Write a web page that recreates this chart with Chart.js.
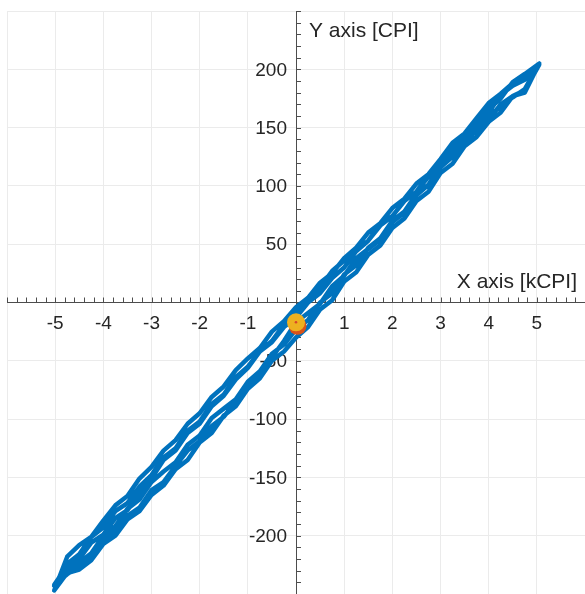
<!DOCTYPE html>
<html>
<head>
<meta charset="utf-8">
<script src="https://cdn.jsdelivr.net/npm/chart.js@4.4.1/dist/chart.umd.min.js"></script>
<style>
  html, body { margin: 0; padding: 0; background: #fff; }
  #wrap { width: 585px; height: 594px; }
</style>
</head>
<body>
<div id="wrap"><canvas id="myChart"></canvas></div>
<script>
// x positions of the sweeps (kCPI)
const xUp = [-5.02, -4.75, -4.5, -4.25, -4, -3.75, -3.5, -3.25, -3, -2.75, -2.5, -2.25, -2, -1.75, -1.5, -1.25, -1, -0.75, -0.5, -0.25,
    0, 0.25, 0.5, 0.75, 1, 1.25, 1.5, 1.75, 2, 2.25, 2.5, 2.75, 3, 3.25, 3.5, 3.75, 4, 4.25, 4.5, 4.75, 5.05];
const xDown = [5.05, 4.75, 4.5, 4.25, 4, 3.75, 3.5, 3.25, 3, 2.75, 2.5, 2.25, 2, 1.75, 1.5, 1.25, 1, 0.75, 0.5, 0.25,
    0, -0.25, -0.5, -0.75, -1, -1.25, -1.5, -1.75, -2, -2.25, -2.5, -2.75, -3, -3.25, -3.5, -3.75, -4, -4.25, -4.5, -4.75, -5.02];
const xStart = [0, 0.25, 0.5, 0.75, 1, 1.25, 1.5, 1.75, 2, 2.25, 2.5, 2.75, 3, 3.25, 3.5, 3.75, 4, 4.25, 4.5, 4.75, 5.05];
const xEnd = [-5.02, -4.75, -4.5, -4.25, -4, -3.75, -3.5, -3.25, -3, -2.75, -2.5, -2.25, -2, -1.75, -1.5, -1.25, -1, -0.75, -0.5, -0.25, 0];

// y values of the sweeps (CPI)
const ySweep1 = [-17, -9, -1, 14, 23, 38, 46, 54, 69, 77, 92, 101, 117, 125, 134, 149, 157, 170, 177, 180, 205];
const ySweep2 = [205, 196, 188, 179, 171, 158, 145, 137, 123, 110, 102, 89, 81, 68, 60, 47, 38, 25, 17, 4,
    -4, -16, -25, -39, -48, -58, -72, -81, -95, -104, -118, -127, -141, -151, -166, -174, -187, -201, -208, -218, -247];
const ySweep3 = [-247, -232, -229, -221, -207, -200, -186, -179, -165, -157, -143, -135, -120, -112, -97, -89, -74, -65, -50, -42,
    -30, -21, -6, 2, 18, 26, 41, 49, 64, 72, 87, 95, 111, 119, 134, 142, 155, 163, 177, 182, 204];
const ySweep4 = [204, 191, 186, 178, 163, 154, 140, 132, 118, 110, 95, 87, 74, 67, 53, 44, 30, 21, 8, 0,
    -13, -21, -34, -42, -55, -64, -79, -87, -102, -110, -125, -133, -148, -158, -172, -179, -193, -201, -216, -224, -243];
const ySweep5 = [-243, -229, -223, -215, -200, -192, -177, -169, -154, -145, -137, -122, -114, -99, -91, -83, -68, -59, -44, -36,
    -23, -15, 0, 8, 24, 32, 47, 55, 70, 78, 93, 101, 116, 125, 139, 147, 160, 168, 176, 183, 205];
const ySweep6 = [205, 196, 189, 175, 166, 152, 144, 131, 117, 108, 95, 87, 74, 66, 53, 45, 36, 27, 13, 4,
    -10, -19, -33, -42, -56, -66, -80, -89, -104, -112, -127, -135, -151, -164, -178, -185, -199, -206, -220, -226, -242];
const ySweep7 = [-242, -233, -226, -218, -204, -197, -183, -176, -161, -154, -140, -127, -119, -106, -98, -85, -70, -61, -47, -33, -17];

// current position marker
const cursorX = [0];
const cursorY = [-17];

const sweeps = [
    [xStart, ySweep1], [xDown, ySweep2], [xUp, ySweep3], [xDown, ySweep4],
    [xUp, ySweep5], [xDown, ySweep6], [xEnd, ySweep7]
];
const pathData = [];
sweeps.forEach(([xs, ys]) => {
    xs.forEach((x, i) => pathData.push({ x, y: ys[i] }));
});
const cursorData = cursorX.map((x, i) => ({ x, y: cursorY[i] }));

const FONT = 'Arial, "Liberation Sans", sans-serif';
const TEXT = '#262626';

// minor tick marks, y tick labels and the two axis titles
const axisDecor = {
    id: 'axisDecor',
    beforeDatasetsDraw(chart) {
        const { ctx, scales: { x, y }, chartArea } = chart;
        const x0 = x.getPixelForValue(0);
        const y0 = y.getPixelForValue(0);
        ctx.save();
        ctx.strokeStyle = '#4d4d4d';
        ctx.lineWidth = 1;
        ctx.beginPath();
        for (let i = -30; i <= 30; i++) {
            const px = Math.round(x.getPixelForValue(i * 0.2)) + 0.5;
            ctx.moveTo(px, y0);
            ctx.lineTo(px, y0 - 5);
        }
        for (let j = -25; j <= 25; j++) {
            const py = Math.round(y.getPixelForValue(j * 10)) + 0.5;
            ctx.moveTo(x0, py);
            ctx.lineTo(x0 + 5, py);
        }
        ctx.stroke();

        ctx.fillStyle = TEXT;
        ctx.font = '19px ' + FONT;
        ctx.textAlign = 'right';
        ctx.textBaseline = 'middle';
        y.ticks.forEach((t) => {
            if (t.value === 0 || Math.abs(t.value) === 250) return;
            ctx.fillText(String(t.value), x0 - 9, y.getPixelForValue(t.value) + 1);
        });

        ctx.font = '21px ' + FONT;
        ctx.textBaseline = 'alphabetic';
        ctx.textAlign = 'left';
        ctx.fillText('Y axis [CPI]', x0 + 13, chartArea.top + 26);
        ctx.textAlign = 'right';
        ctx.fillText('X axis [kCPI]', chartArea.right - 8, y0 - 15);
        ctx.restore();
    }
};

// darker orange rim under the marker
const dotShadow = {
    id: 'dotShadow',
    beforeDatasetDraw(chart, args) {
        if (args.index === 1) {
            const ctx = chart.ctx;
            ctx.save();
            ctx.shadowColor = '#D95319';
            ctx.shadowOffsetX = 1.5;
            ctx.shadowOffsetY = 3.5;
            ctx.shadowBlur = 0;
        }
    },
    afterDatasetDraw(chart, args) {
        if (args.index === 1) chart.ctx.restore();
    }
};

const noPad = (scale) => {
    scale.paddingTop = 0; scale.paddingBottom = 0;
    scale.paddingLeft = 0; scale.paddingRight = 0;
};

const config = {
    type: 'scatter',
    data: {
        datasets: [
            {
                data: pathData, showLine: true, borderColor: '#0072BD', borderWidth: 4.5,
                pointRadius: 0, tension: 0, borderJoinStyle: 'round', borderCapStyle: 'round', order: 3
            },
            {
                data: cursorData, pointRadius: 9, backgroundColor: '#EDB120', borderWidth: 0, order: 2
            },
            {
                data: cursorData, pointRadius: 1.3, backgroundColor: '#d8452a', borderWidth: 0, order: 1
            }
        ]
    },
    options: {
        responsive: true,
        maintainAspectRatio: false,
        animation: false,
        layout: { autoPadding: false, padding: { left: 7, top: 11, right: 0, bottom: 0 } },
        plugins: { legend: { display: false }, tooltip: { enabled: false } },
        scales: {
            x: {
                type: 'linear', min: -6, max: 6, position: { y: 0 },
                afterFit: noPad,
                grid: { color: '#ebebeb', drawTicks: false },
                border: { color: '#4d4d4d', width: 1 },
                ticks: {
                    stepSize: 1, autoSkip: false, maxRotation: 0, padding: 10,
                    color: TEXT, font: { size: 19, family: FONT },
                    callback: (v) => (v === 0 || Math.abs(v) === 6) ? '' : v
                }
            },
            y: {
                type: 'linear', min: -250, max: 250, position: { x: 0 },
                afterFit: noPad,
                grid: { color: '#ebebeb', drawTicks: false },
                border: { color: '#4d4d4d', width: 1 },
                ticks: { stepSize: 50, display: false }
            }
        }
    },
    plugins: [axisDecor, dotShadow]
};

const myChart = new Chart(document.getElementById('myChart'), config);
</script>
</body>
</html>
